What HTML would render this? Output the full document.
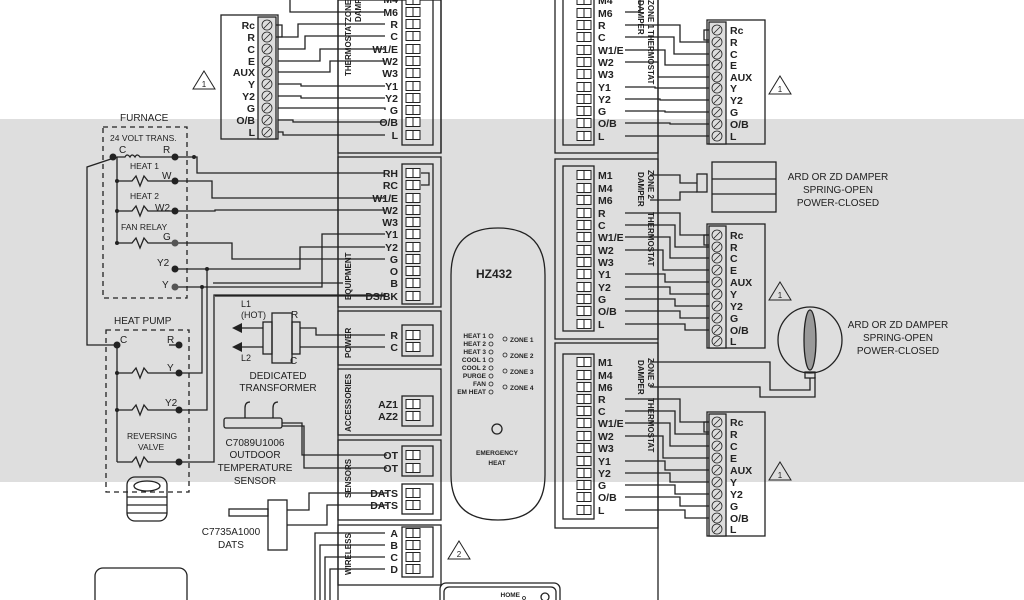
<!DOCTYPE html>
<html><head><meta charset="utf-8"><style>
html,body{margin:0;padding:0;background:#fff;}
svg{display:block;}
text{font-family:"Liberation Sans",sans-serif;fill:#222;}
.b{font-weight:bold;font-size:10.5px;}
.n{font-size:10px;}
.s{font-size:6.5px;font-weight:bold;}
.v{font-size:8px;font-weight:bold;}
</style></head><body>
<svg width="1024" height="600" viewBox="0 0 1024 600" xmlns="http://www.w3.org/2000/svg">
<defs>
<g id="sq"><rect x="0" y="-4.5" width="7" height="9" fill="#fff" stroke="#222" stroke-width="1"/><rect x="7" y="-4.5" width="7" height="9" fill="#fff" stroke="#222" stroke-width="1"/></g>
<g id="scr"><circle cx="0" cy="0" r="5" fill="#ddd" stroke="#222" stroke-width="0.8"/><line x1="-3" y1="3" x2="3" y2="-3" stroke="#222" stroke-width="0.8"/></g>
</defs>
<rect x="0" y="119" width="1024" height="363" fill="#dedede"/>
<g stroke="#222" stroke-width="1.3" fill="none">
<line x1="338" y1="0" x2="338" y2="600"/>
<line x1="441" y1="0" x2="441" y2="153"/>
<rect x="338" y="0" width="103" height="153" />
<rect x="338" y="157" width="103" height="150"/>
<rect x="338" y="311" width="103" height="54"/>
<rect x="338" y="369" width="103" height="66"/>
<rect x="338" y="440" width="103" height="80"/>
<rect x="338" y="525" width="103" height="60"/>
<rect x="402" y="-2" width="31" height="147"/>
<rect x="402" y="164" width="31" height="140"/>
<rect x="402" y="325" width="31" height="31"/>
<rect x="402" y="396" width="31" height="30"/>
<rect x="402" y="446" width="31" height="30"/>
<rect x="402" y="484" width="31" height="30"/>
<rect x="402" y="527" width="31" height="50"/>
<rect x="555" y="-2" width="103" height="155"/>
<rect x="555" y="159" width="103" height="180"/>
<rect x="555" y="343" width="103" height="185"/>
<line x1="658" y1="0" x2="658" y2="600"/>
<rect x="563" y="-2" width="31" height="147"/>
<rect x="563" y="166" width="31" height="165"/>
<rect x="563" y="354" width="31" height="165"/>
<path d="M451,275 Q451,228 498,228 Q545,228 545,275 L545,475 Q545,520 498,520 Q451,520 451,475 Z"/>
<circle cx="497" cy="429" r="5"/>
<rect x="440" y="583" width="120" height="30" rx="6"/>
<rect x="444" y="587" width="112" height="30" rx="5"/>
<circle cx="545" cy="597" r="4"/>
<rect x="95" y="568" width="92" height="40" rx="8"/>
<rect x="221" y="15" width="57" height="124"/>
<rect x="258" y="17" width="18" height="122" fill="#ddd"/>
<path d="M276,25 h6 v12 h-6"/>
<rect x="707" y="20" width="58" height="124"/>
<rect x="707" y="224" width="58" height="124"/>
<rect x="707" y="412" width="58" height="124"/>
<rect x="709" y="22" width="17" height="122" fill="#ddd"/>
<rect x="709" y="226" width="17" height="122" fill="#ddd"/>
<rect x="709" y="414" width="17" height="122" fill="#ddd"/>
<path d="M709,30 h-5 v10 h5"/><path d="M709,235 h-5 v10 h5"/><path d="M709,422 h-5 v10 h5"/>
<rect x="712" y="162" width="64" height="50"/>
<line x1="712" y1="179" x2="776" y2="179"/><line x1="712" y1="194" x2="776" y2="194"/>
<rect x="697" y="174" width="10" height="18"/>
<path d="M650,175 h30 v8 h17 M650,200 h30 v-8 h17"/>
<ellipse cx="810" cy="340" rx="32" ry="33"/>
<ellipse cx="810" cy="340" rx="6" ry="30" fill="#999"/>
<rect x="805" y="372" width="10" height="6"/>
<path d="M650,362 h120 v28 h40 v-12 M650,387 h110 v10 h55 v-20"/>
<path d="M421,173 h8 v12 h-8"/>
<rect x="103" y="127" width="84" height="171" stroke-dasharray="5,4"/>
<rect x="106" y="330" width="83" height="162" stroke-dasharray="5,4"/>
<path d="M117,157 h8 q2,-4 5,0 q2,-4 5,0 q2,-4 5,0 h35"/>
<path d="M117,157 L87,167 V345 H117"/>
<path d="M117,157 V243"/>
<path d="M117,181 h15 l4,-5 l4,10 l4,-10 l4,5 h27"/>
<path d="M117,211 h15 l4,-5 l4,10 l4,-10 l4,5 h27"/>
<path d="M117,243 h15 l4,-5 l4,10 l4,-10 l4,5 h27"/>
<path d="M175,157 h22 v16 h188"/>
<path d="M175,181 h37 v17 h173"/>
<path d="M175,211 h40 v-1 h170"/>
<path d="M175,243 h57 v16 h153"/>
<path d="M175,269 h125 v-22 h85"/>
<path d="M175,287 h147 v-53 h63"/>
<path d="M207,269 V410 H179"/>
<path d="M202,287 V373 H179"/>
<path d="M179,345 h-10"/>
<path d="M117,345 V462"/>
<path d="M117,373 h15 l4,-5 l4,10 l4,-10 l4,5 h31"/>
<path d="M117,410 h15 l4,-5 l4,10 l4,-10 l4,5 h31"/>
<path d="M117,462 h15 l4,-5 l4,10 l4,-10 l4,5 h31 h35 V295 h172"/>
<path d="M213,283 h130 M215,296 h170"/>
<rect x="127" y="477" width="40" height="44" rx="8"/>
<ellipse cx="147" cy="486" rx="13" ry="5"/>
<line x1="127" y1="497" x2="167" y2="497"/><line x1="127" y1="505" x2="167" y2="505"/><line x1="127" y1="513" x2="167" y2="513"/>
<rect x="272" y="313" width="20" height="50"/>
<rect x="263" y="322" width="9" height="32"/>
<rect x="292" y="322" width="8" height="32"/>
<path d="M300,328 h16 v7 h69 M300,347 h85"/>
<path d="M263,328 h-28 M263,347 h-28"/>
<rect x="224" y="418" width="58" height="10" rx="2"/>
<path d="M245,418 v-10 q0,-6 5,-6 M273,418 v-10 q0,-6 5,-6"/>
<path d="M282,423 h20 v32 h85 M282,426 h22 v42 h83"/>
<rect x="268" y="500" width="19" height="50"/>
<rect x="229" y="509" width="39" height="7"/>
<path d="M287,510 h22 v-17 h78 M287,525 h40 v-20 h60"/>
<path d="M385,533 h-70 v70 M385,545 h-65 v60 M385,557 h-60 v50 M385,569 h-55 v40"/>
<path d="M278,37 h20 v-13 h87"/>
<path d="M278,49 h27 v-13 h80"/>
<path d="M278,61 h42 v-12 h65"/>
<path d="M278,72 h52 v-11 h55"/>
<path d="M278,84 h23 v2 h84"/>
<path d="M278,96 h23 v2 h84"/>
<path d="M278,108 h107 v2"/>
<path d="M278,120 h15 v2 h92"/>
<path d="M278,132 h5 v3 h102"/>
<path d="M290,0 v12 h95"/>
<path d="M625,25 h55 v17 h29 M625,37 h49 v17 h35 M625,50 h40 v15 h44 M625,62 h33 v15 h51 M625,87 h30 v1 h54 M625,99 h35 v1 h49 M625,111 h40 v1 h44 M625,123 h45 v1 h39 M625,136 h55 h29"/>
<path d="M640,0 v12 h-15"/>
<path d="M625,213 h55 v22 h29 M625,225 h50 v22 h34 M625,237 h45 v21 h39 M625,250 h38 v20 h46 M625,274 h40 v8 h44 M625,287 h45 v7 h39 M625,299 h50 v7 h34 M625,311 h55 v7 h29 M625,324 h60 v6 h24"/>
<path d="M625,399 h55 v23 h29 M625,411 h50 v23 h34 M625,423 h45 v23 h39 M625,436 h38 v22 h46 M625,461 h40 v9 h44 M625,473 h45 v9 h39 M625,485 h50 v9 h34 M625,497 h55 v9 h29 M625,510 h60 v8 h24"/>
</g>
<g fill="#222">
<circle cx="113" cy="157" r="3.5"/><circle cx="175" cy="157" r="3.5"/><circle cx="175" cy="181" r="3.5"/><circle cx="175" cy="211" r="3.5"/><circle cx="175" cy="243" r="3.5" fill="#555"/><circle cx="175" cy="269" r="3.5"/><circle cx="175" cy="287" r="3.5" fill="#555"/>
<circle cx="117" cy="181" r="2"/><circle cx="117" cy="211" r="2"/><circle cx="117" cy="243" r="2"/>
<circle cx="117" cy="345" r="3.5"/><circle cx="179" cy="345" r="3.5"/><circle cx="179" cy="373" r="3.5"/><circle cx="179" cy="410" r="3.5"/><circle cx="179" cy="462" r="3.5"/>
<circle cx="117" cy="373" r="2"/><circle cx="117" cy="410" r="2"/>
<circle cx="207" cy="269" r="2"/><circle cx="202" cy="287" r="2"/><circle cx="194" cy="157" r="2"/>
<path d="M232,328 l10,-5 v10 z M232,347 l10,-5 v10 z"/>
</g>
<g>
<use href="#scr" x="267" y="25"/><use href="#scr" x="267" y="37"/><use href="#scr" x="267" y="49"/><use href="#scr" x="267" y="61"/><use href="#scr" x="267" y="72"/><use href="#scr" x="267" y="84"/><use href="#scr" x="267" y="96"/><use href="#scr" x="267" y="108"/><use href="#scr" x="267" y="120"/><use href="#scr" x="267" y="132"/>
<use href="#scr" x="717" y="30"/><use href="#scr" x="717" y="42"/><use href="#scr" x="717" y="54"/><use href="#scr" x="717" y="65"/><use href="#scr" x="717" y="77"/><use href="#scr" x="717" y="88"/><use href="#scr" x="717" y="100"/><use href="#scr" x="717" y="112"/><use href="#scr" x="717" y="124"/><use href="#scr" x="717" y="136"/>
<use href="#scr" x="717" y="235"/><use href="#scr" x="717" y="247"/><use href="#scr" x="717" y="258"/><use href="#scr" x="717" y="270"/><use href="#scr" x="717" y="282"/><use href="#scr" x="717" y="294"/><use href="#scr" x="717" y="306"/><use href="#scr" x="717" y="318"/><use href="#scr" x="717" y="330"/><use href="#scr" x="717" y="341"/>
<use href="#scr" x="717" y="422"/><use href="#scr" x="717" y="434"/><use href="#scr" x="717" y="446"/><use href="#scr" x="717" y="458"/><use href="#scr" x="717" y="470"/><use href="#scr" x="717" y="482"/><use href="#scr" x="717" y="494"/><use href="#scr" x="717" y="506"/><use href="#scr" x="717" y="518"/><use href="#scr" x="717" y="529"/>
</g>
<g>
<use href="#sq" x="406" y="0"/><use href="#sq" x="406" y="12"/><use href="#sq" x="406" y="24"/><use href="#sq" x="406" y="36"/><use href="#sq" x="406" y="49"/><use href="#sq" x="406" y="61"/><use href="#sq" x="406" y="73"/><use href="#sq" x="406" y="86"/><use href="#sq" x="406" y="98"/><use href="#sq" x="406" y="110"/><use href="#sq" x="406" y="122"/><use href="#sq" x="406" y="135"/>
<use href="#sq" x="406" y="173"/><use href="#sq" x="406" y="185"/><use href="#sq" x="406" y="198"/><use href="#sq" x="406" y="210"/><use href="#sq" x="406" y="222"/><use href="#sq" x="406" y="234"/><use href="#sq" x="406" y="247"/><use href="#sq" x="406" y="259"/><use href="#sq" x="406" y="271"/><use href="#sq" x="406" y="283"/><use href="#sq" x="406" y="296"/>
<use href="#sq" x="406" y="335"/><use href="#sq" x="406" y="347"/>
<use href="#sq" x="406" y="404"/><use href="#sq" x="406" y="416"/>
<use href="#sq" x="406" y="455"/><use href="#sq" x="406" y="468"/>
<use href="#sq" x="406" y="493"/><use href="#sq" x="406" y="505"/>
<use href="#sq" x="406" y="533"/><use href="#sq" x="406" y="545"/><use href="#sq" x="406" y="557"/><use href="#sq" x="406" y="569"/>
<use href="#sq" x="577" y="0"/><use href="#sq" x="577" y="13"/><use href="#sq" x="577" y="25"/><use href="#sq" x="577" y="37"/><use href="#sq" x="577" y="50"/><use href="#sq" x="577" y="62"/><use href="#sq" x="577" y="74"/><use href="#sq" x="577" y="87"/><use href="#sq" x="577" y="99"/><use href="#sq" x="577" y="111"/><use href="#sq" x="577" y="123"/><use href="#sq" x="577" y="136"/>
<use href="#sq" x="577" y="175"/><use href="#sq" x="577" y="188"/><use href="#sq" x="577" y="200"/><use href="#sq" x="577" y="213"/><use href="#sq" x="577" y="225"/><use href="#sq" x="577" y="237"/><use href="#sq" x="577" y="250"/><use href="#sq" x="577" y="262"/><use href="#sq" x="577" y="274"/><use href="#sq" x="577" y="287"/><use href="#sq" x="577" y="299"/><use href="#sq" x="577" y="311"/><use href="#sq" x="577" y="324"/>
<use href="#sq" x="577" y="362"/><use href="#sq" x="577" y="375"/><use href="#sq" x="577" y="387"/><use href="#sq" x="577" y="399"/><use href="#sq" x="577" y="411"/><use href="#sq" x="577" y="423"/><use href="#sq" x="577" y="436"/><use href="#sq" x="577" y="448"/><use href="#sq" x="577" y="461"/><use href="#sq" x="577" y="473"/><use href="#sq" x="577" y="485"/><use href="#sq" x="577" y="497"/><use href="#sq" x="577" y="510"/>
</g>
<g class="b" text-anchor="end">
<text x="398" y="3">M4</text><text x="398" y="16">M6</text><text x="398" y="28">R</text><text x="398" y="40">C</text><text x="398" y="53">W1/E</text><text x="398" y="65">W2</text><text x="398" y="77">W3</text><text x="398" y="90">Y1</text><text x="398" y="102">Y2</text><text x="398" y="114">G</text><text x="398" y="126">O/B</text><text x="398" y="139">L</text>
<text x="398" y="177">RH</text><text x="398" y="189">RC</text><text x="398" y="202">W1/E</text><text x="398" y="214">W2</text><text x="398" y="226">W3</text><text x="398" y="238">Y1</text><text x="398" y="251">Y2</text><text x="398" y="263">G</text><text x="398" y="275">O</text><text x="398" y="287">B</text><text x="398" y="300">DS/BK</text>
<text x="398" y="339">R</text><text x="398" y="351">C</text>
<text x="398" y="408">AZ1</text><text x="398" y="420">AZ2</text>
<text x="398" y="459">OT</text><text x="398" y="472">OT</text>
<text x="398" y="497">DATS</text><text x="398" y="509">DATS</text>
<text x="398" y="537">A</text><text x="398" y="549">B</text><text x="398" y="561">C</text><text x="398" y="573">D</text>
<text x="255" y="29">Rc</text><text x="255" y="41">R</text><text x="255" y="53">C</text><text x="255" y="65">E</text><text x="255" y="76">AUX</text><text x="255" y="88">Y</text><text x="255" y="100">Y2</text><text x="255" y="112">G</text><text x="255" y="124">O/B</text><text x="255" y="136">L</text>
</g>
<g class="b">
<text x="598" y="4">M4</text><text x="598" y="17">M6</text><text x="598" y="29">R</text><text x="598" y="41">C</text><text x="598" y="54">W1/E</text><text x="598" y="66">W2</text><text x="598" y="78">W3</text><text x="598" y="91">Y1</text><text x="598" y="103">Y2</text><text x="598" y="115">G</text><text x="598" y="127">O/B</text><text x="598" y="140">L</text>
<text x="598" y="179">M1</text><text x="598" y="192">M4</text><text x="598" y="204">M6</text><text x="598" y="217">R</text><text x="598" y="229">C</text><text x="598" y="241">W1/E</text><text x="598" y="254">W2</text><text x="598" y="266">W3</text><text x="598" y="278">Y1</text><text x="598" y="291">Y2</text><text x="598" y="303">G</text><text x="598" y="315">O/B</text><text x="598" y="328">L</text>
<text x="598" y="366">M1</text><text x="598" y="379">M4</text><text x="598" y="391">M6</text><text x="598" y="403">R</text><text x="598" y="415">C</text><text x="598" y="427">W1/E</text><text x="598" y="440">W2</text><text x="598" y="452">W3</text><text x="598" y="465">Y1</text><text x="598" y="477">Y2</text><text x="598" y="489">G</text><text x="598" y="501">O/B</text><text x="598" y="514">L</text>
<text x="730" y="34">Rc</text><text x="730" y="46">R</text><text x="730" y="58">C</text><text x="730" y="69">E</text><text x="730" y="81">AUX</text><text x="730" y="92">Y</text><text x="730" y="104">Y2</text><text x="730" y="116">G</text><text x="730" y="128">O/B</text><text x="730" y="140">L</text>
<text x="730" y="239">Rc</text><text x="730" y="251">R</text><text x="730" y="262">C</text><text x="730" y="274">E</text><text x="730" y="286">AUX</text><text x="730" y="298">Y</text><text x="730" y="310">Y2</text><text x="730" y="322">G</text><text x="730" y="334">O/B</text><text x="730" y="345">L</text>
<text x="730" y="426">Rc</text><text x="730" y="438">R</text><text x="730" y="450">C</text><text x="730" y="462">E</text><text x="730" y="474">AUX</text><text x="730" y="486">Y</text><text x="730" y="498">Y2</text><text x="730" y="510">G</text><text x="730" y="522">O/B</text><text x="730" y="533">L</text>
<text x="476" y="278" font-size="12">HZ432</text>
</g>
<g class="v">
<text transform="translate(351,300) rotate(-90)">EQUIPMENT</text>
<text transform="translate(351,358) rotate(-90)">POWER</text>
<text transform="translate(351,432) rotate(-90)">ACCESSORIES</text>
<text transform="translate(351,498) rotate(-90)">SENSORS</text>
<text transform="translate(351,575) rotate(-90)">WIRELESS</text>
<text transform="translate(351,76) rotate(-90)">THERMOSTAT</text>
<text transform="translate(351,22) rotate(-90)">ZONE</text>
<text transform="translate(361,22) rotate(-90)">DAMPER</text>
<text transform="translate(648,0) rotate(90)">ZONE 1</text>
<text transform="translate(638,0) rotate(90)">DAMPER</text>
<text transform="translate(648,30) rotate(90)">THERMOSTAT</text>
<text transform="translate(648,170) rotate(90)">ZONE 2</text>
<text transform="translate(638,172) rotate(90)">DAMPER</text>
<text transform="translate(648,212) rotate(90)">THERMOSTAT</text>
<text transform="translate(648,358) rotate(90)">ZONE 3</text>
<text transform="translate(638,360) rotate(90)">DAMPER</text>
<text transform="translate(648,398) rotate(90)">THERMOSTAT</text>
</g>
<g class="s" text-anchor="end">
<text x="486" y="338">HEAT 1</text><text x="486" y="346">HEAT 2</text><text x="486" y="354">HEAT 3</text><text x="486" y="362">COOL 1</text><text x="486" y="370">COOL 2</text><text x="486" y="378">PURGE</text><text x="486" y="386">FAN</text><text x="486" y="394">EM HEAT</text>
</g>
<g fill="none" stroke="#222" stroke-width="0.8">
<circle cx="491" cy="336" r="2"/><circle cx="491" cy="344" r="2"/><circle cx="491" cy="352" r="2"/><circle cx="491" cy="360" r="2"/><circle cx="491" cy="368" r="2"/><circle cx="491" cy="376" r="2"/><circle cx="491" cy="384" r="2"/><circle cx="491" cy="392" r="2"/>
<circle cx="505" cy="339" r="2"/><circle cx="505" cy="355" r="2"/><circle cx="505" cy="371" r="2"/><circle cx="505" cy="387" r="2"/>
<circle cx="524" cy="598" r="1.5"/>
</g>
<g class="s"><text x="510" y="342">ZONE 1</text><text x="510" y="358">ZONE 2</text><text x="510" y="374">ZONE 3</text><text x="510" y="390">ZONE 4</text>
<text x="497" y="455" text-anchor="middle">EMERGENCY</text><text x="497" y="465" text-anchor="middle">HEAT</text>
<text x="520" y="597" text-anchor="end">HOME</text></g>
<g class="n">
<text x="120" y="121">FURNACE</text>
<text x="110" y="141" font-size="8.5">24 VOLT TRANS.</text>
<text x="119" y="153">C</text><text x="163" y="153">R</text>
<text x="130" y="169" font-size="8.5">HEAT 1</text><text x="162" y="179">W</text>
<text x="130" y="199" font-size="8.5">HEAT 2</text><text x="155" y="211">W2</text>
<text x="121" y="230" font-size="8.5">FAN RELAY</text><text x="163" y="240">G</text>
<text x="157" y="266">Y2</text><text x="162" y="288">Y</text>
<text x="114" y="324">HEAT PUMP</text>
<text x="120" y="343">C</text><text x="167" y="343">R</text>
<text x="167" y="371">Y</text><text x="165" y="406">Y2</text>
<text x="127" y="439" font-size="8.5">REVERSING</text><text x="138" y="450" font-size="8.5">VALVE</text>
<text x="241" y="307" font-size="9">L1</text><text x="241" y="318" font-size="9">(HOT)</text><text x="241" y="361" font-size="9">L2</text>
<text x="291" y="318">R</text><text x="290" y="364">C</text>
<text x="278" y="379" text-anchor="middle">DEDICATED</text><text x="278" y="391" text-anchor="middle">TRANSFORMER</text>
<text x="255" y="446" text-anchor="middle">C7089U1006</text><text x="255" y="458" text-anchor="middle">OUTDOOR</text><text x="255" y="471" text-anchor="middle">TEMPERATURE</text><text x="255" y="484" text-anchor="middle">SENSOR</text>
<text x="231" y="535" text-anchor="middle">C7735A1000</text><text x="231" y="548" text-anchor="middle">DATS</text>
<text x="838" y="180" text-anchor="middle">ARD OR ZD DAMPER</text><text x="838" y="193" text-anchor="middle">SPRING-OPEN</text><text x="838" y="206" text-anchor="middle">POWER-CLOSED</text>
<text x="898" y="328" text-anchor="middle">ARD OR ZD DAMPER</text><text x="898" y="341" text-anchor="middle">SPRING-OPEN</text><text x="898" y="354" text-anchor="middle">POWER-CLOSED</text>
</g>
<g fill="none" stroke="#222" stroke-width="1">
<path d="M204,71 l11,18 h-22 z"/><path d="M780,76 l11,18 h-22 z"/><path d="M780,282 l11,18 h-22 z"/><path d="M780,462 l11,18 h-22 z"/><path d="M459,541 l11,18 h-22 z"/>
</g>
<g font-size="8" text-anchor="middle"><text x="204" y="87">1</text><text x="780" y="92">1</text><text x="780" y="298">1</text><text x="780" y="478">1</text><text x="459" y="557">2</text></g>
</svg>
</body></html>
